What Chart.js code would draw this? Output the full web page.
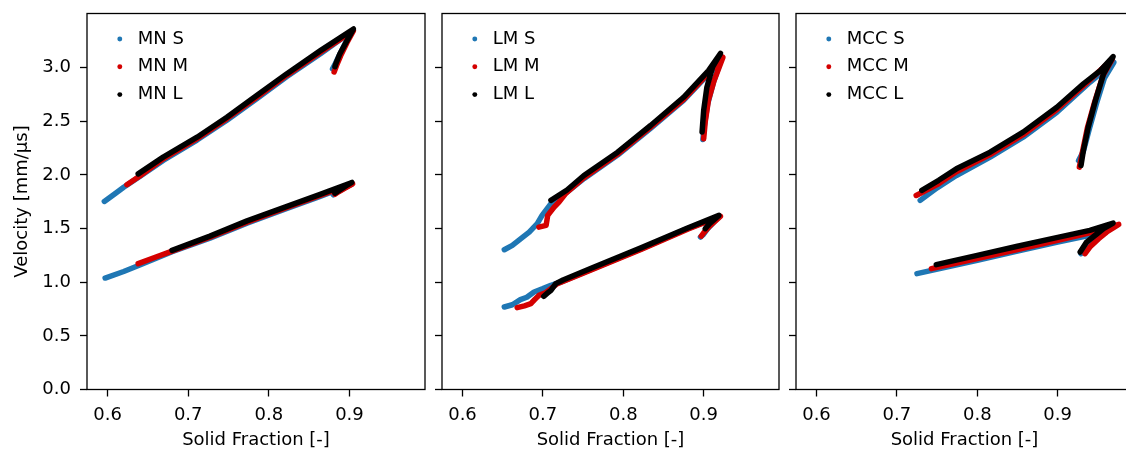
<!DOCTYPE html>
<html>
<head>
<meta charset="utf-8">
<script src="https://cdn.jsdelivr.net/npm/chart.js@4/dist/chart.umd.min.js"></script>
<style>
  html, body { margin: 0; padding: 0; background: #fff; overflow: hidden; width: 1126px; height: 451px; }
  canvas { position: absolute; left: 0; top: 0; }
</style>
</head>
<body>
<canvas id="p0" width="1140" height="451"></canvas>
<canvas id="p1" width="1140" height="451"></canvas>
<canvas id="p2" width="1140" height="451"></canvas>
<script>
// [solid fraction, velocity]; null splits the upper and lower branch
const mnS = [[0.596,1.753],[0.610,1.83],[0.620,1.886],[0.640,1.985],[0.669,2.135],[0.711,2.325],[0.748,2.51],[0.785,2.71],[0.822,2.915],[0.864,3.13],[0.903,3.34],[0.895,3.23],[0.887,3.11],[0.882,3.03],[0.879,2.99],
  null,[0.597,1.039],[0.620,1.10],[0.640,1.16],[0.680,1.285],[0.727,1.41],[0.773,1.55],[0.820,1.68],[0.862,1.795],[0.902,1.91],[0.893,1.875],[0.885,1.84],[0.880,1.815]];
const mnM = [[0.624,1.909],[0.640,1.99],[0.669,2.15],[0.711,2.338],[0.748,2.525],[0.785,2.725],[0.822,2.928],[0.864,3.145],[0.905,3.345],[0.897,3.235],[0.889,3.11],[0.884,3.02],[0.881,2.96],
  null,[0.638,1.173],[0.660,1.235],[0.680,1.29],[0.727,1.42],[0.773,1.56],[0.820,1.69],[0.862,1.805],[0.904,1.918],[0.895,1.88],[0.887,1.845],[0.882,1.82]];
const mnL = [[0.638,2.01],[0.669,2.166],[0.711,2.352],[0.748,2.538],[0.785,2.74],[0.822,2.942],[0.864,3.159],[0.905,3.361],[0.897,3.252],[0.888,3.128],[0.883,3.035],[0.882,3.01],
  null,[0.680,1.297],[0.727,1.43],[0.773,1.572],[0.820,1.70],[0.862,1.815],[0.903,1.93],[0.895,1.895],[0.887,1.855],[0.882,1.83]];

const lmS = [[0.652,1.303],[0.662,1.344],[0.675,1.421],[0.683,1.467],[0.693,1.546],[0.699,1.623],[0.710,1.732],[0.720,1.78],[0.751,1.965],[0.793,2.185],[0.834,2.435],[0.875,2.695],[0.906,2.94],[0.922,3.08],[0.912,2.86],[0.905,2.66],[0.901,2.47],[0.899,2.33],
  null,[0.652,0.769],[0.662,0.79],[0.672,0.838],[0.680,0.86],[0.689,0.909],[0.700,0.94],[0.710,0.971],[0.722,1.0],[0.760,1.12],[0.822,1.31],[0.880,1.50],[0.919,1.61],[0.905,1.50],[0.899,1.44],[0.896,1.421]];
const lmM = [[0.695,1.514],[0.704,1.530],[0.706,1.623],[0.714,1.70],[0.720,1.747],[0.728,1.825],[0.751,1.975],[0.793,2.195],[0.834,2.445],[0.875,2.705],[0.906,2.95],[0.924,3.097],[0.913,2.88],[0.906,2.70],[0.902,2.50],[0.900,2.337],
  null,[0.668,0.763],[0.677,0.78],[0.685,0.80],[0.690,0.84],[0.695,0.878],[0.703,0.90],[0.710,0.94],[0.718,0.987],[0.760,1.115],[0.822,1.305],[0.880,1.495],[0.921,1.615],[0.907,1.52],[0.900,1.46],[0.897,1.43]];
const lmL = [[0.710,1.763],[0.730,1.86],[0.751,1.995],[0.793,2.212],[0.834,2.461],[0.875,2.724],[0.906,2.973],[0.921,3.134],[0.911,3.004],[0.904,2.818],[0.900,2.601],[0.898,2.40],
  null,[0.701,0.869],[0.706,0.90],[0.710,0.925],[0.716,0.987],[0.725,1.02],[0.760,1.13],[0.822,1.32],[0.880,1.505],[0.919,1.623],[0.908,1.55],[0.903,1.51],[0.902,1.499]];

const mccS = [[0.729,1.763],[0.750,1.88],[0.774,1.995],[0.816,2.166],[0.857,2.352],[0.899,2.585],[0.940,2.864],[0.970,3.05],[0.958,2.90],[0.948,2.66],[0.939,2.42],[0.932,2.22],[0.926,2.135],
  null,[0.725,1.080],[0.800,1.205],[0.850,1.29],[0.900,1.375],[0.940,1.437],[0.970,1.52],[0.950,1.42],[0.940,1.35],[0.933,1.30],[0.929,1.266]];
const mccM = [[0.724,1.809],[0.750,1.91],[0.774,2.03],[0.816,2.19],[0.857,2.375],[0.899,2.61],[0.935,2.85],[0.968,3.08],[0.956,2.92],[0.946,2.68],[0.937,2.44],[0.931,2.22],[0.927,2.073],
  null,[0.743,1.127],[0.800,1.22],[0.850,1.305],[0.900,1.39],[0.940,1.46],[0.976,1.539],[0.961,1.468],[0.951,1.406],[0.940,1.328],[0.934,1.266]];
const mccL = [[0.731,1.856],[0.752,1.95],[0.774,2.057],[0.816,2.212],[0.857,2.399],[0.899,2.631],[0.932,2.849],[0.953,2.973],[0.969,3.103],[0.957,2.942],[0.947,2.694],[0.938,2.445],[0.932,2.228],[0.929,2.088],
  null,[0.749,1.164],[0.800,1.25],[0.850,1.335],[0.900,1.418],[0.940,1.483],[0.969,1.551],[0.957,1.50],[0.949,1.452],[0.936,1.374],[0.928,1.281]];

const panelNames = [["MN S","MN M","MN L"], ["LM S","LM M","LM L"], ["MCC S","MCC M","MCC L"]];
const panelData = [[mnS, mnM, mnL], [lmS, lmM, lmL], [mccS, mccM, mccL]];
const seriesColors = ["#1f77b4", "#d40000", "#000000"];
const xTicks = [0.6, 0.7, 0.8, 0.9];
const yTicks = [0, 0.5, 1.0, 1.5, 2.0, 2.5, 3.0];
const xRange = [0.5745, 0.9937];
const yRange = [0, 3.505];

const panelLeft = [87, 442, 796];
const panelRight = [425, 779, 1133];
const CANVAS_W = 1140;
const FONT = 18;

Chart.defaults.font.family = "'DejaVu Sans', sans-serif";
Chart.defaults.font.size = FONT;
Chart.defaults.color = "#000";

const framePlugin = {
  id: "frame",
  afterDraw(chart) {
    const { ctx, chartArea: a } = chart;
    ctx.save();
    ctx.strokeStyle = "#000";
    ctx.lineWidth = 1.3;
    ctx.strokeRect(a.left, a.top, a.right - a.left, a.bottom - a.top);
    ctx.restore();
  }
};

// put the legend a bit inside the top-left corner of the axes
const legendInside = {
  id: "legendInside",
  afterLayout(chart) {
    const lg = chart.legend, a = chart.chartArea;
    lg.left = a.left + 14;
    lg.top = a.top + 6.7;
    lg.right = a.right;
    lg.bottom = a.bottom;
  }
};

function toPoints(list) {
  let lastX = 0;
  return list.map(p => {
    if (!p) return { x: lastX, y: null };
    lastX = p[0];
    return { x: p[0], y: p[1] };
  });
}

function noPad(s) {
  s.paddingTop = 0; s.paddingBottom = 0; s.paddingLeft = 0; s.paddingRight = 0;
}

function makePanel(i) {
  const datasets = panelData[i].map((d, k) => ({
    label: panelNames[i][k],
    data: toPoints(d),
    showLine: true,
    borderColor: seriesColors[k],
    backgroundColor: seriesColors[k],
    pointBackgroundColor: seriesColors[k],
    pointBorderWidth: 0,
    pointRadius: 0,
    pointHoverRadius: 0,
    pointStyle: "circle",
    borderWidth: 5.5,
    borderCapStyle: "round",
    borderJoinStyle: "round",
    spanGaps: false,
    order: 3 - k,
  }));

  new Chart(document.getElementById("p" + i), {
    type: "scatter",
    data: { datasets },
    plugins: [framePlugin, legendInside],
    options: {
      responsive: false,
      animation: false,
      events: [],
      layout: { padding: { left: 0, top: 13.5, right: CANVAS_W - panelRight[i], bottom: 0 } },
      plugins: {
        tooltip: { enabled: false },
        legend: {
          position: "chartArea",
          align: "start",
          labels: {
            usePointStyle: true,
            pointStyle: "circle",
            boxHeight: 3.5,
            boxWidth: FONT,
            padding: 9.8,
            font: { size: FONT },
            color: "#000",
            sort: (a, b) => a.datasetIndex - b.datasetIndex,
          }
        }
      },
      scales: {
        x: {
          type: "linear",
          min: xRange[0],
          max: xRange[1],
          afterBuildTicks: s => { s.ticks = xTicks.map(v => ({ value: v })); },
          afterFit: s => { s.height = 61.5; noPad(s); },
          ticks: { padding: 8.5, callback: v => v.toFixed(1) },
          grid: { drawOnChartArea: false, drawTicks: true, tickLength: 7, tickWidth: 1.3, tickColor: "#000" },
          border: { display: false },
          title: { display: true, text: "Solid Fraction [-]", font: { size: FONT, lineHeight: 1.2 }, padding: { top: 0, bottom: 0 } },
        },
        y: {
          type: "linear",
          min: yRange[0],
          max: yRange[1],
          afterBuildTicks: s => { s.ticks = yTicks.map(v => ({ value: v })); },
          afterFit: s => { s.width = panelLeft[i]; noPad(s); },
          ticks: { display: i === 0, padding: 9, callback: v => v.toFixed(1) },
          grid: { drawOnChartArea: false, drawTicks: true, tickLength: 7, tickWidth: 1.3, tickColor: "#000" },
          border: { display: false },
          title: { display: i === 0, text: "Velocity [mm/µs]", font: { size: FONT, lineHeight: 1.2 }, padding: { top: 11.2, bottom: 0 } },
        }
      }
    }
  });
}

[0, 1, 2].forEach(makePanel);
</script>
</body>
</html>
